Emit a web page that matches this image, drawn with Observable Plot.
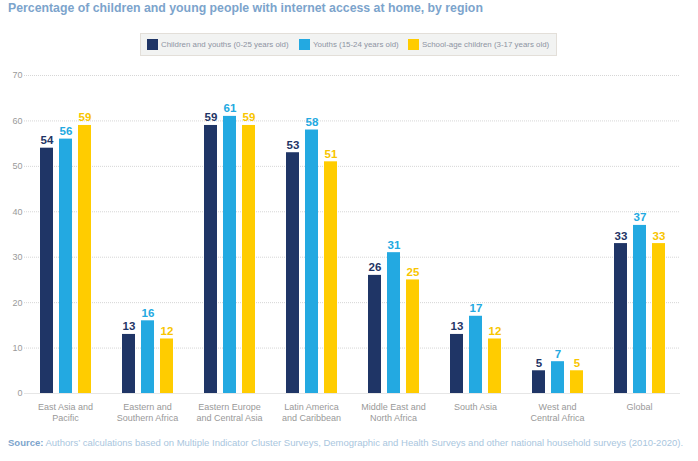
<!DOCTYPE html>
<html>
<head>
<meta charset="utf-8">
<script src="https://cdn.jsdelivr.net/npm/d3@7"></script>
<script src="https://cdn.jsdelivr.net/npm/@observablehq/plot@0.6"></script>
<style>
  html, body { margin: 0; padding: 0; background: #fff; }
  body { width: 698px; height: 461px; position: relative; overflow: hidden; font-family: "Liberation Sans", Arial, sans-serif; }
  #title { position: absolute; left: 8px; top: 1px; font-size: 12.3px; line-height: 14px; font-weight: bold; color: #7ca4cc; white-space: nowrap; }
  #legend { position: absolute; left: 140px; top: 33px; width: 417px; height: 23px; background: #f2f3f2; border: 1px solid #e3dfd9; box-sizing: border-box; font-size: 7.9px; color: #8e93a3; white-space: nowrap; }
  #legend .item { display: flex; align-items: center; position: absolute; top: 5px; }
  #legend .sw { width: 11px; height: 11px; margin-right: 3px; }
  #chart { position: absolute; left: 0; top: 60px; }
  #source { position: absolute; left: 8px; top: 437px; font-size: 9.5px; line-height: 12px; color: #a9c6de; white-space: nowrap; }
  #source b { color: #7ca4cc; }
</style>
</head>
<body>
<div id="title">Percentage of children and young people with internet access at home, by region</div>
<div id="legend"></div>
<div id="chart"></div>
<div id="source"><b>Source:</b> Authors’ calculations based on Multiple Indicator Cluster Surveys, Demographic and Health Surveys and other national household surveys (2010-2020).</div>
<script>
const regions = ["East Asia and\nPacific", "Eastern and\nSouthern Africa", "Eastern Europe\nand Central Asia", "Latin America\nand Caribbean", "Middle East and\nNorth Africa", "South Asia", "West and\nCentral Africa", "Global"];
const series = ["Children and youths (0-25 years old)", "Youths (15-24 years old)", "School-age children (3-17 years old)"];
const childrenYouths = [54, 13, 59, 53, 26, 13, 5, 33];
const youths = [56, 16, 61, 58, 31, 17, 7, 37];
const schoolAge = [59, 12, 59, 51, 25, 12, 5, 33];
const barColors = ["#1f3566", "#23a9e1", "#ffcc00"];
const labelColors = ["#1f3566", "#23a9e1", "#f8c500"];
const yTicks = [0, 10, 20, 30, 40, 50, 60, 70];

const seriesValues = [childrenYouths, youths, schoolAge];
const data = [];
regions.forEach((r, i) => {
  series.forEach((s, j) => {
    data.push({region: r, series: s, value: seriesValues[j][i], labelColor: labelColors[j]});
  });
});

// legend
const legend = document.getElementById("legend");
const legendLeft = [6, 158, 267];
series.forEach((s, j) => {
  const it = document.createElement("div");
  it.className = "item";
  it.style.left = legendLeft[j] + "px";
  it.innerHTML = `<span class="sw" style="background:${barColors[j]}"></span><span>${s}</span>`;
  legend.appendChild(it);
});

const chart = Plot.plot({
  width: 698,
  height: 370,
  marginTop: 15,
  marginBottom: 37,
  marginLeft: 23,
  marginRight: 18,
  style: {fontFamily: "Liberation Sans, Arial, sans-serif", background: "transparent"},
  fx: {domain: regions, padding: 0, label: null},
  x: {domain: series, paddingInner: 0.316, paddingOuter: 0.78, axis: null},
  y: {domain: [0, 70], axis: null},
  color: {domain: series, range: barColors},
  marks: [
    Plot.gridY(yTicks.filter(d => d > 0), {stroke: "#d6d6d6", strokeOpacity: 1, strokeDasharray: "1,1"}),
    Plot.ruleY([0], {stroke: "#e6e6e6", strokeWidth: 1}),
    Plot.axisY({ticks: yTicks, tickSize: 0, tickPadding: 2, fontSize: 9, fill: "#9a9a9a", label: null}),
    Plot.axisFx({anchor: "bottom", tickSize: 0, tickPadding: 8.5, fontSize: 9, fill: "#999", label: null, lineHeight: 1.22}),
    Plot.barY(data, {fx: "region", x: "series", y: "value", fill: "series"}),
    Plot.text(data, {fx: "region", x: "series", y: "value", text: d => String(d.value), fill: "labelColor", fontWeight: "bold", fontSize: 11.5, lineAnchor: "bottom", dy: -4})
  ]
});
document.getElementById("chart").appendChild(chart);
</script>
</body>
</html>
